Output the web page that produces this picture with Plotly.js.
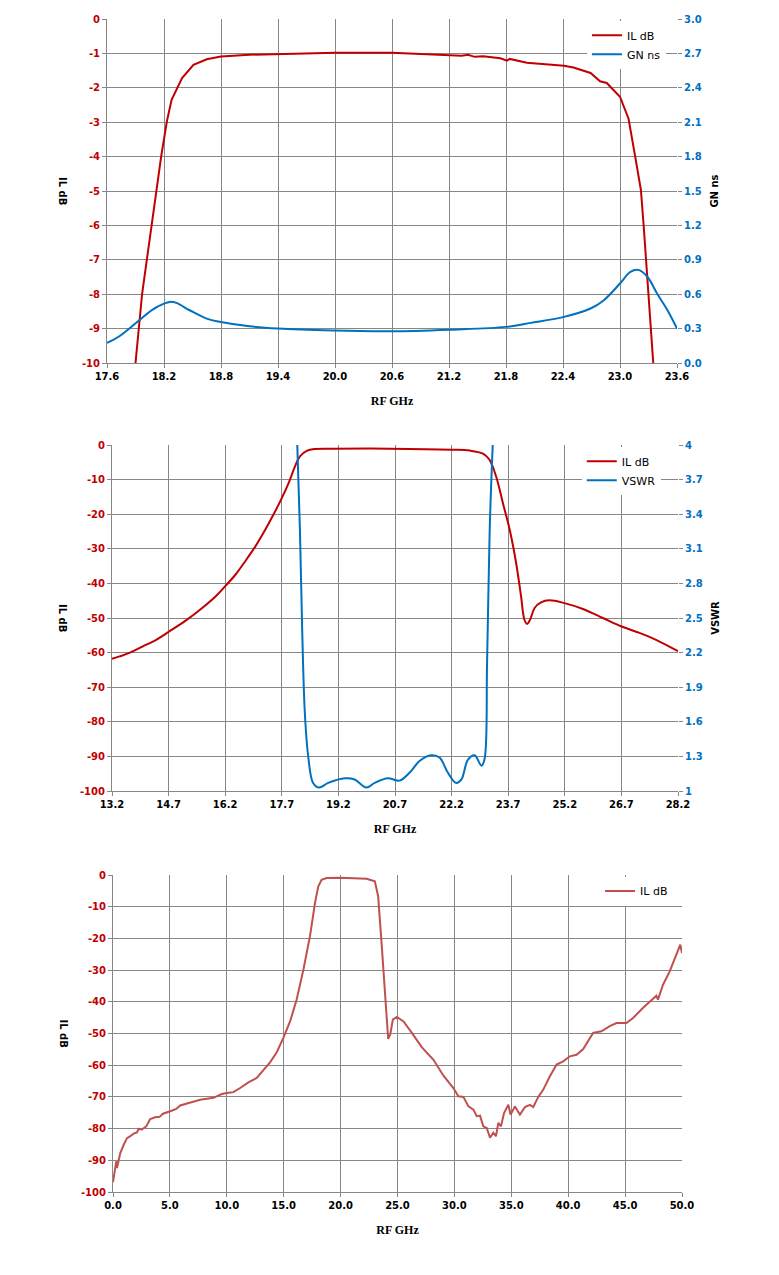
<!DOCTYPE html>
<html>
<head>
<meta charset="utf-8">
<script src="https://cdn.plot.ly/plotly-3.0.1.min.js"></script>
<style>
  body { margin: 0; background: #fff; }
  .chart { position: absolute; left: 0; width: 779px; }
</style>
</head>
<body>
<div id="c1" class="chart" style="top:0px;height:420px"></div>
<div id="c2" class="chart" style="top:420px;height:430px"></div>
<div id="c3" class="chart" style="top:850px;height:425px"></div>
<script>
// ---- chart 1: passband zoom, IL dB + group delay ----
let f1 = [17.90, 17.97, 18.07, 18.17, 18.23, 18.28, 18.39, 18.51, 18.65, 18.80, 19.10, 19.42, 20.00, 20.60,
  20.90, 21.19, 21.33, 21.40, 21.47, 21.56, 21.74, 21.81, 21.84, 22.02, 22.16, 22.41, 22.51, 22.69, 22.79,
  22.86, 23.00, 23.09, 23.16, 23.22, 23.25, 23.30, 23.35];
let il1 = [-10.0, -7.98, -5.99, -4.0, -2.98, -2.35, -1.72, -1.33, -1.17, -1.09, -1.04, -1.02, -0.98, -0.98,
  -1.01, -1.04, -1.07, -1.04, -1.10, -1.08, -1.14, -1.21, -1.16, -1.27, -1.30, -1.36, -1.41, -1.57, -1.81,
  -1.86, -2.26, -2.9, -4.0, -4.97, -6.04, -7.98, -10.0];

let fGd = [17.60, 17.73, 17.94, 18.08, 18.20, 18.26, 18.33, 18.47, 18.65, 18.80, 19.10, 19.40, 19.98, 20.59,
  21.20, 21.80, 22.06, 22.40, 22.69, 22.83, 23.00, 23.11, 23.20, 23.29, 23.39, 23.50, 23.60];
let gd = [0.175, 0.233, 0.373, 0.466, 0.518, 0.533, 0.524, 0.46, 0.387, 0.358, 0.32, 0.30, 0.283, 0.277,
  0.291, 0.315, 0.35, 0.40, 0.475, 0.548, 0.693, 0.795, 0.81, 0.75, 0.606, 0.46, 0.30];

// ---- chart 2: wideband IL dB + VSWR ----
let f2 = [13.2, 13.4, 13.66, 14.02, 14.37, 14.7, 15.16, 15.59, 15.95, 16.2, 16.47, 16.73, 17.0, 17.26, 17.48,
  17.68, 17.88, 18.05, 18.18, 18.36, 18.58, 19.02, 20.56, 22.2, 22.68, 23.03, 23.2, 23.38, 23.56, 23.74, 23.91,
  24.04, 24.13, 24.2, 24.28, 24.4, 24.57, 24.79, 25.19, 25.68, 26.21, 26.69, 27.18, 27.62, 28.2];
let il2 = [-61.8, -61.1, -60.1, -58.2, -56.3, -54.0, -50.7, -47.1, -43.7, -40.8, -37.5, -33.6, -29.3, -24.5, -20.1,
  -15.8, -11.0, -6.2, -3.3, -1.7, -1.16, -1.06, -1.06, -1.35, -1.6, -2.5, -4.2, -9.1, -16.8, -24.5, -34.1,
  -43.7, -50.5, -51.7, -50.5, -47.1, -45.5, -44.9, -45.7, -47.4, -50.0, -52.4, -54.3, -56.3, -59.6];

let fVs = [18.11, 18.18, 18.24, 18.31, 18.40, 18.53, 18.69, 18.93, 19.37, 19.63, 19.94, 20.16, 20.51, 20.82,
  21.09, 21.35, 21.66, 21.88, 22.10, 22.32, 22.46, 22.63, 22.81, 22.99, 23.07, 23.14, 23.21, 23.29];
let vswr = [4.0, 3.27, 2.40, 1.68, 1.30, 1.07, 1.03, 1.07, 1.11, 1.10, 1.03, 1.07, 1.11, 1.09,
  1.16, 1.26, 1.31, 1.29, 1.16, 1.07, 1.10, 1.27, 1.31, 1.22, 1.27, 2.11, 3.27, 4.0];

// ---- chart 3: 0-50 GHz IL dB ----
let f3 = [0.0, 0.12, 0.29, 0.35, 0.5, 0.64, 0.94, 1.23, 1.52, 1.81, 2.1, 2.25, 2.54, 2.92, 3.27, 3.71, 4.09,
  4.39, 4.97, 5.56, 5.9, 6.49, 7.08, 7.66, 8.83, 9.56, 10.0, 10.58, 11.17, 11.9, 12.63, 13.22, 13.8, 14.39,
  14.97, 15.56, 16.14, 16.73, 17.31, 17.75, 18.04, 18.33, 18.77, 20.0, 22.28, 23.01, 23.3, 23.6, 23.89, 24.09,
  24.18, 24.36, 24.59, 24.94, 25.53, 26.26, 27.13, 28.16, 29.04, 29.91, 30.35, 30.79, 31.23, 31.67, 31.96,
  32.25, 32.54, 32.84, 33.13, 33.42, 33.65, 33.86, 34.09, 34.36, 34.74, 34.94, 35.32, 35.76, 36.2, 36.64,
  36.93, 37.37, 37.81, 38.39, 38.98, 39.56, 40.15, 40.73, 41.32, 42.19, 42.92, 43.65, 44.24, 45.12, 45.7,
  46.58, 47.46, 47.75, 47.89, 48.33, 48.92, 49.5, 49.85, 50.0];
let il3 = [-96.9, -94.0, -90.3, -92.4, -89.3, -87.7, -85.1, -83.0, -82.4, -81.6, -81.2, -80.1, -80.3, -79.3,
  -77.0, -76.4, -76.3, -75.3, -74.6, -73.8, -72.7, -72.1, -71.4, -70.9, -70.3, -69.1, -68.8, -68.5, -67.2,
  -65.4, -64.0, -61.4, -59.1, -55.9, -51.4, -46.2, -39.3, -29.9, -19.3, -8.8, -3.6, -1.5, -0.95, -0.84,
  -1.16, -2.0, -6.7, -21.5, -37.2, -47.7, -51.7, -50.4, -45.6, -44.8, -46.2, -49.8, -54.3, -58.3, -63.3,
  -67.2, -69.8, -70.0, -73.0, -74.0, -76.1, -75.9, -79.3, -79.8, -82.9, -81.3, -82.4, -78.2, -79.3, -75.1,
  -72.5, -75.6, -73.0, -75.6, -73.2, -72.5, -73.2, -70.0, -67.7, -63.5, -59.8, -58.8, -57.2, -56.7, -54.9,
  -49.8, -49.3, -47.7, -46.7, -46.7, -45.1, -41.9, -38.8, -38.1, -39.3, -34.6, -30.4, -25.1, -21.98, -24.6];

// tick labels (plain hyphen minus, like the original)
let dbTicks1 = [0, -1, -2, -3, -4, -5, -6, -7, -8, -9, -10];
let dbTicks100 = [0, -10, -20, -30, -40, -50, -60, -70, -80, -90, -100];

const RED = "#c00000", BLUE = "#0070c0", GRID = "#878787";
const tickFont = (c) => ({family: "DejaVu Sans", size: 10, color: c, weight: "bold"});

function xAxis(range, dtick) {
  return {
    range: range, tick0: range[0], dtick: dtick, tickformat: ".1f",
    showgrid: true, gridcolor: GRID, gridwidth: 1, zeroline: false,
    showline: true, linecolor: GRID, linewidth: 1,
    ticks: "outside", ticklen: 4, tickcolor: GRID,
    tickfont: tickFont("#000"),
    title: {text: "RF GHz", standoff: 15,
      font: {family: "Liberation Serif", size: 12, color: "#000", weight: "bold"}}
  };
}

function dbAxis(ticks, color) {
  return {
    range: [ticks[ticks.length - 1], ticks[0]],
    tickvals: ticks, ticktext: ticks.map(String),
    showgrid: true, gridcolor: GRID, gridwidth: 1, zeroline: false,
    showline: true, linecolor: GRID, linewidth: 1,
    ticks: "outside", ticklen: 4, tickcolor: GRID,
    tickfont: tickFont(color)
  };
}

function rightAxis(range, dtick, fmt, name) {
  return {
    overlaying: "y", side: "right", range: range, tick0: range[0], dtick: dtick,
    tickformat: fmt, showgrid: false, zeroline: false,
    ticks: "outside", ticklen: 4, tickcolor: GRID,
    tickfont: tickFont(BLUE),
    title: {text: name, standoff: 10,
      font: {family: "DejaVu Sans", size: 10, color: "#000", weight: "bold"}}
  };
}

// left title reads top-to-bottom in the original, so it is an annotation
function leftTitle(left, width) {
  return {
    text: "IL dB", xref: "paper", yref: "paper", x: (63 - left) / width, y: 0.5,
    xanchor: "center", yanchor: "middle", showarrow: false, textangle: 90,
    font: {family: "DejaVu Sans", size: 10, color: "#000", weight: "bold"}
  };
}

function legendAt(x) {
  return {
    x: x, y: 0.995, xanchor: "left", yanchor: "top", bgcolor: "#fff",
    font: {family: "DejaVu Sans", size: 11, color: "#000"}, tracegroupgap: 0
  };
}

const config = {displayModeBar: false, staticPlot: true};

Plotly.newPlot("c1", [
  {x: f1, y: il1, type: "scatter", mode: "lines", name: "IL dB", line: {color: RED, width: 2}},
  {x: fGd, y: gd, type: "scatter", mode: "lines", name: "GN ns", yaxis: "y2",
    line: {color: BLUE, width: 2, shape: "spline"}}
], {
  width: 779, height: 420, margin: {l: 107, r: 102, t: 19, b: 57},
  paper_bgcolor: "#fff", plot_bgcolor: "#fff", showlegend: true,
  xaxis: xAxis([17.6, 23.6], 0.6),
  yaxis: dbAxis(dbTicks1, RED),
  yaxis2: rightAxis([0, 3], 0.3, ".1f", "GN ns"),
  legend: legendAt(0.842),
  annotations: [leftTitle(107, 570)]
}, config);

Plotly.newPlot("c2", [
  {x: f2, y: il2, type: "scatter", mode: "lines", name: "IL dB", line: {color: RED, width: 2, shape: "spline"}},
  {x: fVs, y: vswr, type: "scatter", mode: "lines", name: "VSWR", yaxis: "y2",
    line: {color: BLUE, width: 2, shape: "spline"}}
], {
  width: 779, height: 430, margin: {l: 112, r: 101, t: 25, b: 59},
  paper_bgcolor: "#fff", plot_bgcolor: "#fff", showlegend: true,
  xaxis: xAxis([13.2, 28.2], 1.5),
  yaxis: dbAxis(dbTicks100, RED),
  yaxis2: rightAxis([1, 4], 0.3, "", "VSWR"),
  legend: legendAt(0.83),
  annotations: [leftTitle(112, 566)]
}, config);

Plotly.newPlot("c3", [
  {x: f3, y: il3, type: "scatter", mode: "lines", name: "IL dB", line: {color: "#c0504d", width: 2}}
], {
  width: 779, height: 425, margin: {l: 113, r: 97, t: 25, b: 83},
  paper_bgcolor: "#fff", plot_bgcolor: "#fff", showlegend: true,
  xaxis: xAxis([0, 50], 5),
  yaxis: dbAxis(dbTicks100, RED),
  legend: legendAt(0.856),
  annotations: [leftTitle(113, 569)]
}, config);
</script>
</body>
</html>
